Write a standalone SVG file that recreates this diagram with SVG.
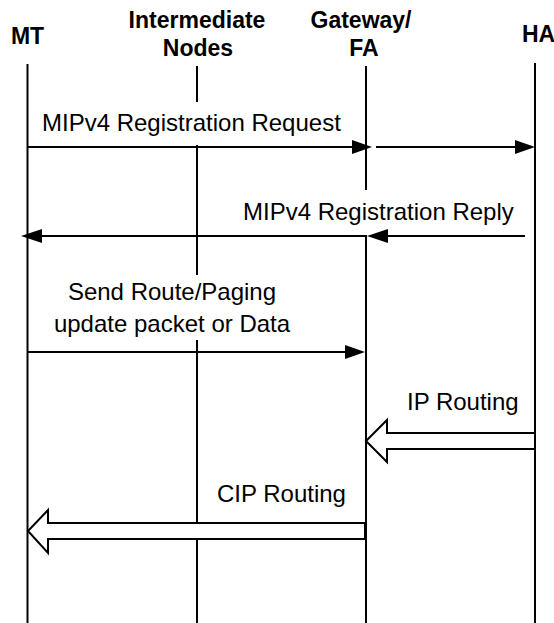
<svg xmlns="http://www.w3.org/2000/svg" width="554" height="623" viewBox="0 0 554 623">
<defs>
<style>
.hdr{font-family:"Liberation Sans",Arial,sans-serif;font-weight:bold;font-size:23px;fill:#000}
.lbl{font-family:"Liberation Sans",Arial,sans-serif;font-size:24px;fill:#000}
.life{stroke:#000;stroke-width:2;fill:none}
.msg{stroke:#000;stroke-width:2;fill:none}
.head{fill:#000;stroke:none}
.hollow{fill:#fff;stroke:#000;stroke-width:2;stroke-linejoin:miter}
.bg{fill:#fff;stroke:none}
</style>
</defs>
<rect width="554" height="623" fill="#fff"/>
<g id="MT">
<text class="hdr" x="27.5" y="44" text-anchor="middle">MT</text>
<line class="life" x1="27.5" y1="64" x2="27.5" y2="623"/>
</g>
<g id="IntermediateNodes">
<text class="hdr" x="197" y="28" text-anchor="middle">Intermediate</text>
<text class="hdr" x="198" y="56" text-anchor="middle">Nodes</text>
<line class="life" x1="197" y1="66" x2="197" y2="623"/>
</g>
<g id="GatewayFA">
<text class="hdr" x="361" y="28" text-anchor="middle">Gateway/</text>
<text class="hdr" x="364" y="56" text-anchor="middle">FA</text>
<line class="life" x1="366" y1="66" x2="366" y2="623"/>
</g>
<g id="HA">
<text class="hdr" x="522" y="42">HA</text>
<line class="life" x1="535" y1="63" x2="535" y2="623"/>
</g>
<g id="connectors">
<g id="req">
<rect class="bg" x="38" y="102" width="308" height="43"/>
<text class="lbl" x="42" y="131">MIPv4 Registration Request</text>
<line class="msg" x1="27.5" y1="147" x2="355" y2="147"/>
<polygon class="head" points="352,140 372,147 352,154"/>
<line class="msg" x1="376" y1="147" x2="518" y2="147"/>
<polygon class="head" points="515,140 535,147 515,154"/>
</g>
<g id="reply">
<rect class="bg" x="239" y="190" width="280" height="45"/>
<text class="lbl" x="243" y="220">MIPv4 Registration Reply</text>
<line class="msg" x1="525" y1="236" x2="385" y2="236"/>
<polygon class="head" points="388,229 367,236 388,243"/>
<line class="msg" x1="366" y1="236" x2="38" y2="236"/>
<polygon class="head" points="42,229 21,236 42,243"/>
</g>
<g id="send">
<rect class="bg" x="52" y="275" width="242" height="65"/>
<text class="lbl" x="172" y="300" text-anchor="middle">Send Route/Paging</text>
<text class="lbl" x="172" y="332" text-anchor="middle">update packet or Data</text>
<line class="msg" x1="27.5" y1="352" x2="348" y2="352"/>
<polygon class="head" points="345,345 365,352 345,359"/>
</g>
<g id="ip">
<text class="lbl" x="407" y="410">IP Routing</text>
<polygon class="hollow" points="535,433 387,433 387,420 366,441 387,462 387,449 535,449"/>
</g>
<g id="cip">
<text class="lbl" x="217" y="502">CIP Routing</text>
<polygon class="hollow" points="365,523 48,523 48,510 28,531 48,553 48,539 365,539"/>
</g>
</g>
</svg>
